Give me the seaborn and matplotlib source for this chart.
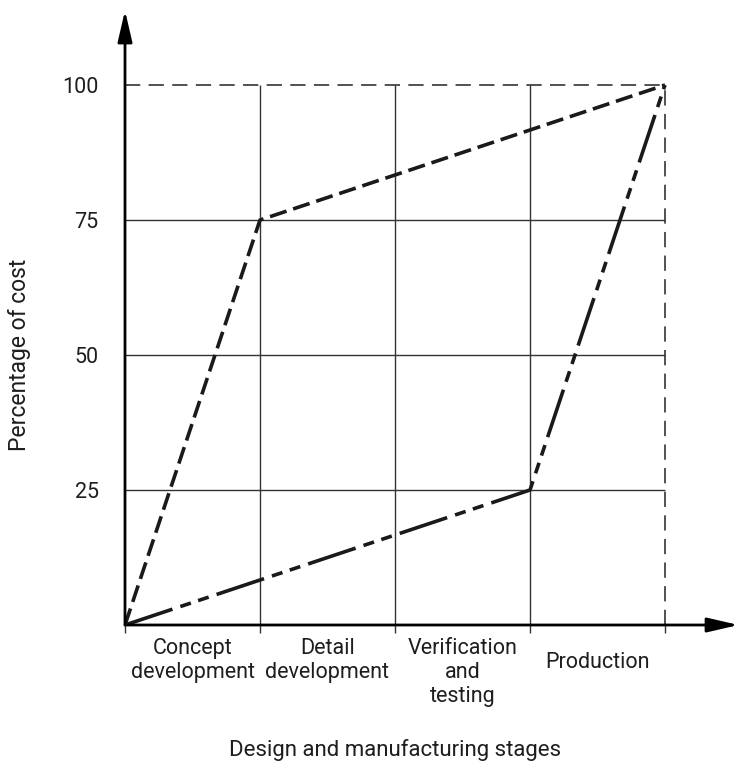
import matplotlib
matplotlib.use("Agg")
import matplotlib.pyplot as plt
import seaborn as sns
import pandas as pd

# ---- data ----
stages = ["Concept\ndevelopment", "Detail\ndevelopment", "Verification\nand\ntesting", "Production"]
stage_bounds = [0, 1, 2, 3, 4]
y_ticks = [25, 50, 75, 100]
design_x = [0, 1, 4]
design_y = [0, 75, 100]
mfg_x = [0, 3, 4]
mfg_y = [0, 25, 100]

sns.set_theme(style="white")
plt.rcParams["font.family"] = ["Roboto", "DejaVu Sans"]
plt.rcParams["lines.scale_dashes"] = False
plt.rcParams["text.color"] = "#1e1e1e"
plt.rcParams["axes.labelcolor"] = "#1e1e1e"
plt.rcParams["xtick.color"] = "#1e1e1e"
plt.rcParams["ytick.color"] = "#1e1e1e"

FS = 15.5
W, H = 741, 782
PX_PER_Y = 5.4
fig = plt.figure(figsize=(W / 100, H / 100), dpi=100)
ax = fig.add_axes([125 / W, 157 / H, 616 / W, 613 / H])
ax.set_xlim(0, 616 / 135)
ax.set_ylim(0, 613 / PX_PER_Y)
for s in ax.spines.values():
    s.set_visible(False)

dark = "#1a1a1a"
grid = "#333333"

# grid lines
ax.hlines(y_ticks[:-1], stage_bounds[0], stage_bounds[-1], color=grid, lw=1.0, zorder=1)
ax.vlines(stage_bounds[1:-1], 0, y_ticks[-1], color=grid, lw=1.0, zorder=1)
ax.hlines(y_ticks[-1], stage_bounds[0], stage_bounds[-1], color=grid, lw=1.2,
          linestyle=(0, (11, 6)), zorder=1)
ax.vlines(stage_bounds[-1], 0, y_ticks[-1], color=grid, lw=1.2,
          linestyle=(0, (11, 6)), zorder=1)

# series
df_design = pd.DataFrame({"x": design_x, "y": design_y})
df_mfg = pd.DataFrame({"x": mfg_x, "y": mfg_y})
sns.lineplot(data=df_design, x="x", y="y", ax=ax, color=dark, lw=2.6,
             linestyle=(0, (12.5, 5)), sort=False, estimator=None, zorder=3)
sns.lineplot(data=df_mfg, x="x", y="y", ax=ax, color=dark, lw=2.6,
             linestyle=(0, (36, 6, 8, 5.5, 8, 6)), sort=False, estimator=None, zorder=3)

# axis arrows
arrow_kw = dict(arrowstyle="-|>,head_length=0.95,head_width=0.22", mutation_scale=20,
                lw=2.0, color="black", shrinkA=0, shrinkB=0)
ax.annotate("", xy=(4.545, 0), xytext=(0, 0), xycoords="data",
            arrowprops=arrow_kw, annotation_clip=False, zorder=4)
ax.annotate("", xy=(0, 113.8), xytext=(0, 0), xycoords="data",
            arrowprops=arrow_kw, annotation_clip=False, zorder=4)

# ticks at stage boundaries
ax.set_xticks(stage_bounds)
ax.set_xticklabels([""] * len(stage_bounds))
ax.tick_params(axis="x", which="major", bottom=True, length=6, width=1.0,
               color=grid, direction="out")

# stage labels between boundaries
for left, right, name in zip(stage_bounds[:-1], stage_bounds[1:], stages):
    multi = "\n" in name
    ax.text((left + right) / 2, -13 / PX_PER_Y if multi else -37 / PX_PER_Y, name,
            ha="center", va="top" if multi else "center", fontsize=FS,
            linespacing=1.2, clip_on=False)

ax.set_yticks(y_ticks)
ax.tick_params(axis="y", left=False, length=0, pad=19, labelsize=FS)

ax.set_xlabel("")
ax.set_ylabel("Percentage of cost", fontsize=16.5)
ax.yaxis.set_label_coords(-0.152, (y_ticks[-1] / 2) / (613 / PX_PER_Y))
ax.text(2, -125 / PX_PER_Y, "Design and manufacturing stages", ha="center", va="center",
        fontsize=16)

fig.savefig("out.png", dpi=100)
